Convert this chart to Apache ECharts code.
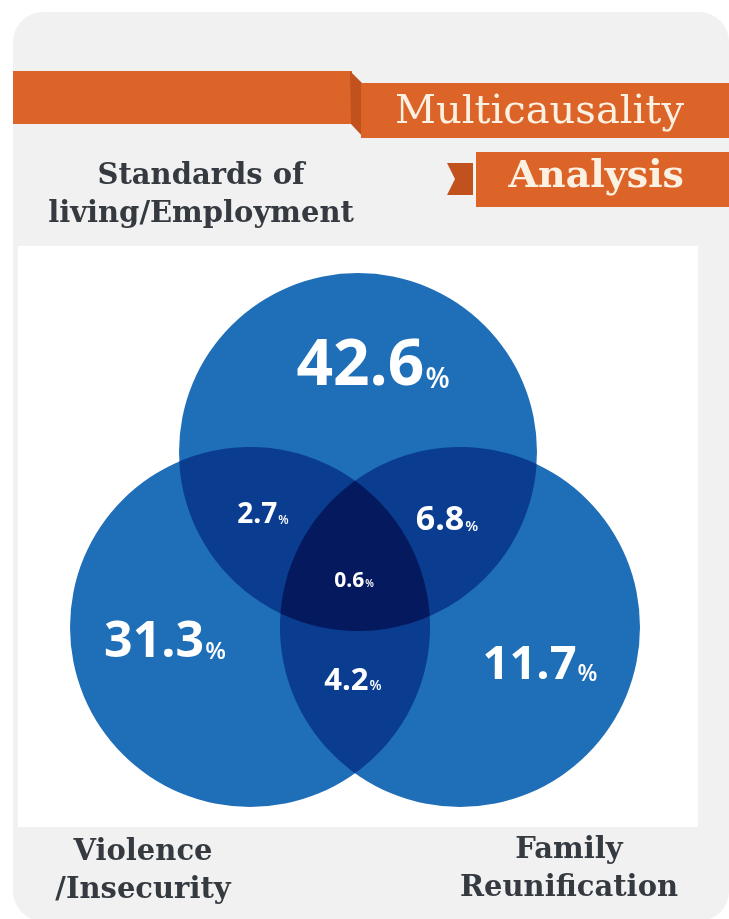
<!DOCTYPE html>
<html>
<head>
<meta charset="utf-8">
<script src="https://cdn.jsdelivr.net/npm/echarts@6/dist/echarts.min.js"></script>
<style>
  html, body { margin: 0; padding: 0; background: #ffffff; }
  #chart { width: 729px; height: 919px; }
</style>
</head>
<body>
<div id="chart"></div>
<script>
// ---- data ----
const setNames = ['Standards of\nliving/Employment', 'Violence\n/Insecurity', 'Family\nReunification'];
// which sets each Venn region belongs to (indices into setNames)
const regionMembers = [[0], [1], [2], [0, 1], [0, 2], [1, 2], [0, 1, 2]];
const regionShares = [42.6, 31.3, 11.7, 2.7, 6.8, 4.2, 0.6];
const headingLines = ['Multicausality', 'Analysis'];

// ---- layout (canvas units: x to the right, y downwards) ----
const circleLayout = [
  { cx: 358, cy: 452, r: 179 },
  { cx: 250, cy: 627, r: 180 },
  { cx: 460, cy: 627, r: 180 }
];
const regionLabelLayout = [
  { x: 373, y: 367, size: 64, pct: 28 },
  { x: 165, y: 643, size: 50, pct: 24 },
  { x: 540, y: 666, size: 47, pct: 23 },
  { x: 263, y: 515, size: 28, pct: 12 },
  { x: 447, y: 520, size: 34, pct: 15 },
  { x: 353, y: 681, size: 31, pct: 14 },
  { x: 354, y: 581, size: 21, pct: 10 }
];
const setLabelLayout = [
  { x: 201, y: 195 },
  { x: 143, y: 871 },
  { x: 569, y: 869 }
];
const levelFill = ['#1f6eb8', '#0a3c8f', '#051a5e'];
const orange = '#dd6428';
const orangeDark = '#c2521d';
const cream = '#fbf1e2';
const ink = '#343a40';

// ---- geometry helpers ----
function intersect(a, b) {
  const dx = b.x - a.x, dy = b.y - a.y, d = Math.hypot(dx, dy);
  const l = (a.r * a.r - b.r * b.r + d * d) / (2 * d);
  const h = Math.sqrt(Math.max(a.r * a.r - l * l, 0));
  const mx = a.x + dx * l / d, my = a.y + dy * l / d;
  return [[mx + h * dy / d, my - h * dx / d], [mx - h * dy / d, my + h * dx / d]];
}
function arcPoints(c, p1, p2, n) {
  const a1 = Math.atan2(p1[1] - c.y, p1[0] - c.x);
  let d = Math.atan2(p2[1] - c.y, p2[0] - c.x) - a1;
  while (d > Math.PI) d -= 2 * Math.PI;
  while (d < -Math.PI) d += 2 * Math.PI;
  const pts = [];
  for (let i = 0; i <= n; i++) {
    const t = a1 + d * i / n;
    pts.push([c.x + c.r * Math.cos(t), c.y + c.r * Math.sin(t)]);
  }
  return pts;
}
function isInside(p, c) {
  return Math.hypot(p[0] - c.x, p[1] - c.y) < c.r + 0.01;
}
function regionShape(members, circles) {
  if (members.length === 1) {
    const c = circles[members[0]];
    return { type: 'circle', shape: { cx: c.x, cy: c.y, r: c.r } };
  }
  if (members.length === 2) {
    const A = circles[members[0]], B = circles[members[1]];
    const [P, Q] = intersect(A, B);
    return { type: 'polygon', shape: { points: arcPoints(A, P, Q, 80).concat(arcPoints(B, Q, P, 80)) } };
  }
  const [A, B, C] = members.map(k => circles[k]);
  const vAB = intersect(A, B).find(p => isInside(p, C));
  const vBC = intersect(B, C).find(p => isInside(p, A));
  const vCA = intersect(C, A).find(p => isInside(p, B));
  const pts = arcPoints(B, vAB, vBC, 60)
    .concat(arcPoints(C, vBC, vCA, 60))
    .concat(arcPoints(A, vCA, vAB, 60));
  return { type: 'polygon', shape: { points: pts } };
}

function renderRegion(params, api) {
  const i = api.value(0);
  const share = api.value(1);
  const circles = circleLayout.map(c => {
    const p = api.coord([c.cx, c.cy]);
    return { x: p[0], y: p[1], r: api.size([c.r, 0])[0] };
  });
  const members = regionMembers[i];
  const shape = regionShape(members, circles);
  shape.style = { fill: levelFill[members.length - 1] };
  shape.z2 = members.length;

  const lab = regionLabelLayout[i];
  const lp = api.coord([lab.x, lab.y]);
  const lift = Math.round(0.15 * (lab.size - lab.pct));
  const text = {
    type: 'text',
    x: lp[0], y: lp[1], z2: 10,
    style: {
      text: '{n|' + share.toFixed(1) + '}{p|%}',
      align: 'center', verticalAlign: 'middle',
      fill: '#ffffff',
      rich: {
        n: { fontFamily: 'Open Sans', fontWeight: 700, fontSize: lab.size, lineHeight: lab.size, verticalAlign: 'bottom', fill: '#ffffff' },
        p: { fontFamily: 'Open Sans', fontWeight: 600, fontSize: lab.pct, lineHeight: lab.pct, verticalAlign: 'bottom', fill: '#ffffff', padding: [0, 0, lift, 1] }
      }
    }
  };
  return { type: 'group', children: [shape, text] };
}

// ---- static decoration and headings ----
const graphics = [
  { type: 'rect', z: 0, shape: { x: 13, y: 12, width: 716, height: 909, r: 30 }, style: { fill: '#f1f1f1' } },
  { type: 'rect', z: 0, shape: { x: 18, y: 246, width: 680, height: 581 }, style: { fill: '#ffffff' } },
  // ribbon
  { type: 'rect', z: 1, shape: { x: 13, y: 71, width: 339, height: 53 }, style: { fill: orange } },
  { type: 'polygon', z: 1, shape: { points: [[350, 71], [362, 83], [364, 138], [351, 124]] }, style: { fill: orangeDark } },
  { type: 'rect', z: 1, shape: { x: 361, y: 83, width: 368, height: 55 }, style: { fill: orange } },
  { type: 'polygon', z: 1, shape: { points: [[447, 163], [473, 163], [473, 195], [447, 195], [455, 179]] }, style: { fill: orangeDark } },
  { type: 'rect', z: 1, shape: { x: 476, y: 152, width: 253, height: 55 }, style: { fill: orange } },
  { type: 'text', z: 3, x: 684, y: 113, style: { text: headingLines[0], font: '40px "DejaVu Serif"', fill: cream, align: 'right', verticalAlign: 'middle' } },
  { type: 'text', z: 3, x: 684, y: 177, style: { text: headingLines[1], font: 'bold 38px "DejaVu Serif"', fill: cream, align: 'right', verticalAlign: 'middle' } }
];
setNames.forEach((name, k) => {
  graphics.push({
    type: 'text', z: 3, x: setLabelLayout[k].x, y: setLabelLayout[k].y,
    style: { text: name, font: 'bold 29px "DejaVu Serif"', lineHeight: 38, fill: ink, align: 'center', verticalAlign: 'middle' }
  });
});

const chart = echarts.init(document.getElementById('chart'), null, { renderer: 'canvas' });
chart.setOption({
  animation: false,
  backgroundColor: '#ffffff',
  grid: { left: 0, right: 0, top: 0, bottom: 0 },
  xAxis: { type: 'value', min: 0, max: 729, show: false },
  yAxis: { type: 'value', min: 0, max: 919, inverse: true, show: false },
  graphic: graphics,
  series: [{
    type: 'custom',
    z: 5,
    renderItem: renderRegion,
    encode: { x: -1, y: -1 },
    data: regionShares.map((v, i) => [i, v])
  }]
});
</script>
</body>
</html>
